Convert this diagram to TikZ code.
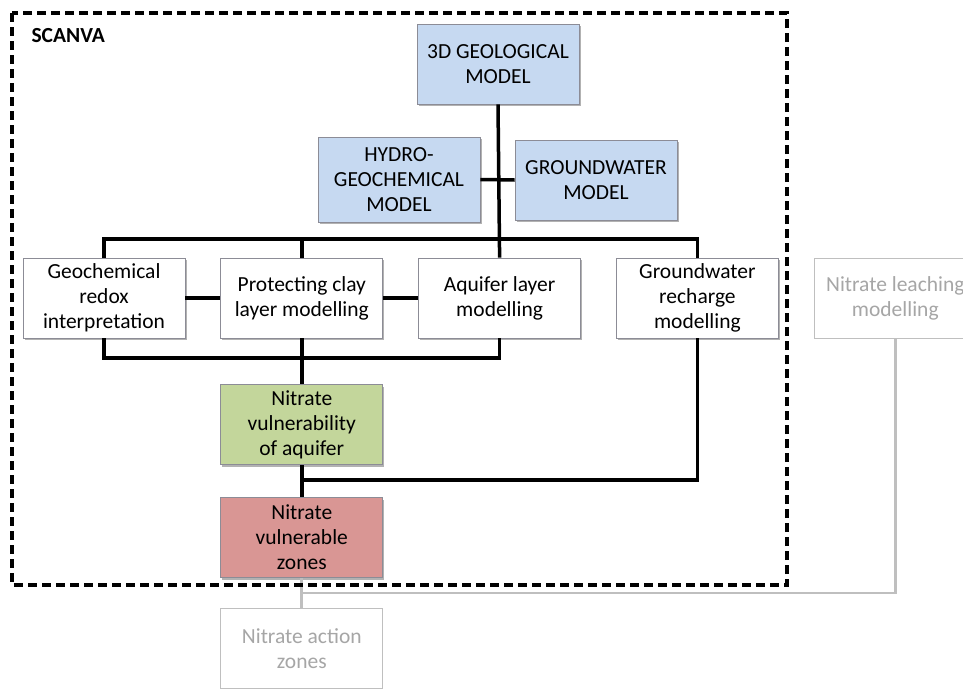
\documentclass[tikz,border=0pt]{standalone}
\usepackage{fontspec}
\setmainfont{Carlito}
\usepackage{tikz}
\usetikzlibrary{positioning,shadows}

\definecolor{modelblue}{HTML}{C6D9F1}
\definecolor{vulngreen}{HTML}{C3D69B}
\definecolor{zonered}{HTML}{D99694}
\definecolor{boxline}{HTML}{8C8C96}
\definecolor{faded}{HTML}{A6A6A6}
\definecolor{fadedline}{HTML}{BFBFBF}

\begin{document}
\begin{tikzpicture}[x=1pt,y=-1pt,node distance=35pt,
                    link/.style={line width=3.5pt},
                    greylink/.style={line width=2.7pt,draw=fadedline}]
  \tikzstyle{box}=[draw=boxline,fill=white,line width=0.8pt,align=center,
                   minimum width=162pt,minimum height=80pt,inner sep=0pt,
                   font=\fontsize{21.5}{25}\selectfont,
                   drop shadow={shadow xshift=1.5pt,shadow yshift=-2pt,
                                opacity=0.3,fill=black}]
  \tikzstyle{greybox}=[draw=fadedline,fill=white,line width=1pt,align=center,
                       minimum width=162pt,minimum height=80pt,inner sep=0pt,
                       text=faded,font=\fontsize{21.5}{25}\selectfont]

  \useasboundingbox (0,0) rectangle (963,688);

  \node[box,fill=modelblue] (geo3d)  at (498,64)  {3D GEOLOGICAL\\MODEL};
  \node[box,fill=modelblue,minimum height=85pt] (hydro) at (399,179.5)
       {HYDRO-\\GEOCHEMICAL\\MODEL};
  \node[box,fill=modelblue] (gwmodel) at (596,180) {GROUNDWATER\\MODEL};

  \node[box]         (redox)    at (104,298)        {Geochemical\\redox\\interpretation};
  \node[box]         (clay)     [right=of redox]    {Protecting clay\\layer modelling};
  \node[box]         (aquifer)  [right=of clay]     {Aquifer layer\\modelling};
  \node[box]         (recharge) [right=of aquifer]  {Groundwater\\recharge\\modelling};
  \node[greybox]     (leaching) [right=of recharge] {Nitrate leaching\\modelling};

  \node[box,fill=vulngreen] (vulnaq)    [below=46pt of clay]   {Nitrate\\vulnerability\\of aquifer};
  \node[box,fill=zonered]   (vulnzones) [below=32pt of vulnaq] {Nitrate\\vulnerable\\zones};
  \node[greybox]            (action)    [below=30pt of vulnzones] {Nitrate action\\zones};

  \coordinate (topbus)  at (0,239);
  \coordinate (lowbus)  at (0,358);
  \coordinate (rejoin)  at (0,480);
  \coordinate (greybus) at (0,593);

  % grey links to the outside steps
  \draw[greylink] (vulnzones.south) -- (action.north);
  \draw[greylink] (vulnzones.south |- greybus) -| (leaching.south);

  % scanva frame
  \draw[line width=3.8pt,dash pattern=on 9pt off 5pt] (12,13) rectangle (787,585);
  \node[anchor=west,font=\fontsize{21.5}{25}\selectfont\bfseries] (scanva) at (28,36) {SCANVA};

  \draw[link] (geo3d.south) -- (aquifer.north);
  \draw[link] (hydro.east) -- (gwmodel.west);
  \draw[link] (redox.north) |- (topbus -| recharge.north) -- (recharge.north);
  \draw[link] (clay.north) -- (clay.north |- topbus);

  \draw[link] (redox.east) -- (clay.west);
  \draw[link] (clay.east) -- (aquifer.west);
  \draw[link] (redox.south) |- (lowbus -| aquifer.south) -- (aquifer.south);
  \draw[link] (clay.south) -- (vulnaq.north);

  \draw[link] (vulnaq.south) -- (vulnzones.north);
  \draw[link] (vulnaq.south |- rejoin) -| (recharge.south);
\end{tikzpicture}
\end{document}
